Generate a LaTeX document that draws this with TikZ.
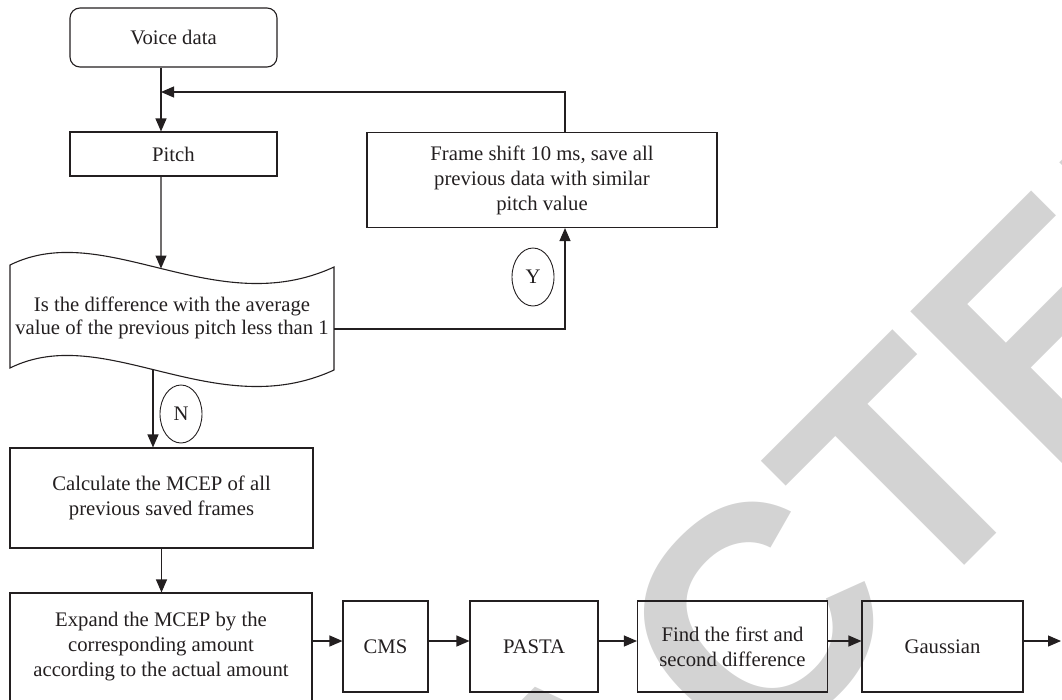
\documentclass[tikz,border=0pt]{standalone}
\usepackage{fontspec}
\setmainfont{Liberation Serif}
\newfontfamily\wmfont{Liberation Sans}
\usetikzlibrary{arrows.meta,intersections,shapes.geometric}

\definecolor{ink}{HTML}{231F20}
\definecolor{wmgray}{HTML}{D3D3D3}

\begin{document}
\begin{tikzpicture}[x=1pt,y=-1pt,
  every node/.style={font=\fontsize{20.7}{25}\selectfont, text=ink},
  line/.style={draw=ink, line width=1.1pt},
  arr/.style={line, -{Triangle[length=13pt,width=11pt]}},
  box/.style={line, rectangle, inner sep=0pt, align=center},
  tag/.style={draw=ink, line width=0.9pt, ellipse, minimum width=42pt,
              minimum height=58pt, inner sep=0pt},
  wm/.style={font=\wmfont\bfseries\fontsize{316}{316}\selectfont, text=wmgray,
             rotate=45, inner sep=0pt, outer sep=0pt},
]
\useasboundingbox (0,0) rectangle (1062,699);

% background stamp
\begin{scope}
  \clip (0,0) rectangle (1062,699);
  \node[wm, anchor=base east] (stampA) at (912.5,617.3) {RETRAC};
  \node[wm, anchor=base west] (stampB) at (912.5,617.3) {TED};
\end{scope}

\begin{scope}
\clip (0,0) rectangle (1062,699);
% process blocks
\node[box, rounded corners=10pt, minimum width=207pt, minimum height=59pt]
  (voice) at (173.5,37.5) {Voice data};
\node[box, minimum width=207pt, minimum height=44pt] (pitch) at (173.5,154) {Pitch};
\node[box, minimum width=350pt, minimum height=95pt] (frame) at (542,180)
  {Frame shift 10 ms, save all\\previous data with similar\\pitch value};
\node[box, minimum width=303pt, minimum height=100pt] (calc) at (161.5,498)
  {Calculate the MCEP of all\\previous saved frames};
\node[box, minimum width=302pt, minimum height=108pt] (expand) at (161,647)
  {Expand the MCEP by the\\corresponding amount\\according to the actual amount};
\node[box, minimum width=85pt, minimum height=91pt] (cms) at (385.5,646.5) {CMS};
\node[box, minimum width=128pt, minimum height=91pt] (pasta) at (534,646.5) {PASTA};
\node[box, minimum width=190pt, minimum height=91pt] (find) at (732.5,646.5)
  {Find the first and\\second difference};
\node[box, minimum width=161pt, minimum height=91pt] (gauss) at (942.5,646.5) {Gaussian};

% decision (punched tape outline)
\draw[line] (10,265) .. controls (105,218) and (215,322) .. (334,267)
  -- (334,370) .. controls (215,425) and (105,321) .. (10,368) -- cycle;
\path[name path=dtop] (10,265) .. controls (105,218) and (215,322) .. (334,267);
\path[name path=dbot] (334,370) .. controls (215,425) and (105,321) .. (10,368);
\node[align=center, inner sep=0pt, font=\fontsize{20.7}{23}\selectfont]
  (dec) at (172,318) {Is the difference with the average\\value of the previous pitch less than 1};

% branch labels
\node[tag] (yes) at (533,277) {Y};
\node[tag] (no) at (181,414) {N};

% helper points
\coordinate (fb) at (161,92);
\coordinate (yx) at (565,329);
\coordinate (decR) at (334,329);
\coordinate (ay) at (0,641);
\coordinate (out) at (1061,641);
\path[name path=vin] (161,150) -- (161,320);
\path[name path=vout] (153,320) -- (153,450);
\path[name intersections={of=vin and dtop, by=dt}];
\path[name intersections={of=vout and dbot, by=db}];

% connectors
\draw[arr] (voice.south -| fb) -- (pitch.north -| fb);
\draw[arr] (frame.north -| yx) -- (yx |- fb) -- (fb);
\draw[arr] (pitch.south -| fb) -- (dt);
\draw[arr] (decR) -- (yx) -- (frame.south -| yx);
\draw[arr] (db) -- (calc.north -| db);
\draw[arr] (calc.south) -- (expand.north -| calc.south);
\draw[arr] (expand.east |- ay) -- (cms.west |- ay);
\draw[arr] (cms.east |- ay) -- (pasta.west |- ay);
\draw[arr] (pasta.east |- ay) -- (find.west |- ay);
\draw[arr] (find.east |- ay) -- (gauss.west |- ay);
\draw[arr] (gauss.east |- ay) -- (out);
\end{scope}
\end{tikzpicture}
\end{document}
